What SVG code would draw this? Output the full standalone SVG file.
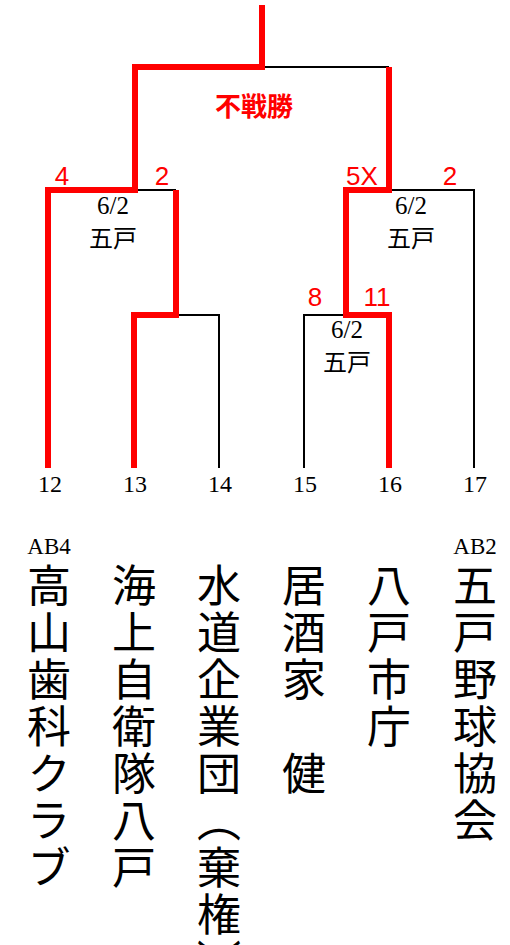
<svg xmlns="http://www.w3.org/2000/svg" width="510" height="945" viewBox="0 0 510 945">
<style>
.bk{fill:none;stroke:#000;stroke-width:2}
.rd{fill:none;stroke:#ff0000;stroke-width:6;stroke-linejoin:miter}
.sc{font-family:"Liberation Sans","Open Sans",sans-serif;font-size:26px;fill:#ff0000;text-anchor:middle}
.dt{font-family:"Liberation Serif",serif;font-size:25px;fill:#000;text-anchor:middle}
.ml{font-family:"Noto Sans CJK JP","Noto Sans CJK SC",sans-serif;font-size:24px;fill:#000;text-anchor:middle}
.num{font-family:"Liberation Serif",serif;font-size:24px;fill:#000;text-anchor:middle}
.ab{font-family:"Liberation Serif",serif;font-size:23px;fill:#000;text-anchor:middle}
.nm{font-family:"Noto Sans CJK JP","Noto Sans CJK SC",sans-serif;font-size:44px;fill:#000;writing-mode:vertical-rl;letter-spacing:3px}
</style>
<rect width="510" height="945" fill="#fff"/>
<g id="connectors">
<path class="bk" d="M262,67 H389"/>
<path class="bk" d="M135,190 H176"/>
<path class="bk" d="M176,315 H219 V468"/>
<path class="bk" d="M389,190 H474 V468"/>
<path class="bk" d="M304,468 V315 H346"/>
<path class="rd" d="M262,5 V67 H135 V190 H48 V468"/>
<path class="rd" d="M176,190 V315 H134 V468"/>
<path class="rd" d="M389,67 V190 H346 V315 H389 V468"/>
</g>
<g id="final">
<text x="254" y="116" style="font-family:'Noto Sans CJK JP',sans-serif;font-size:26px;font-weight:bold;fill:#ff0000;text-anchor:middle">不戦勝</text>
</g>
<g id="match-left">
<text class="sc" x="62" y="185">4</text>
<text class="sc" x="162" y="185">2</text>
<text class="dt" x="113" y="214">6/2</text>
<text class="ml" x="113" y="247">五戸</text>
</g>
<g id="match-right">
<text class="sc" x="362" y="185">5X</text>
<text class="sc" x="450" y="185">2</text>
<text class="dt" x="411" y="214">6/2</text>
<text class="ml" x="411" y="247">五戸</text>
</g>
<g id="match-mid">
<text class="sc" x="315" y="306">8</text>
<text class="sc" x="377" y="306">11</text>
<text class="dt" x="347" y="338">6/2</text>
<text class="ml" x="347" y="371">五戸</text>
</g>
<g id="team12">
<text class="num" x="50" y="492">12</text>
<text class="ab" x="49" y="554">AB4</text>
<text class="nm" x="49" y="563">高山歯科クラブ</text>
</g>
<g id="team13">
<text class="num" x="135" y="492">13</text>
<text class="nm" x="134" y="563">海上自衛隊八戸</text>
</g>
<g id="team14">
<text class="num" x="220" y="492">14</text>
<text class="nm" x="219" y="563">水道企業団︵棄権︶</text>
</g>
<g id="team15">
<text class="num" x="305" y="492">15</text>
<text class="nm" x="304" y="563">居酒家　健</text>
</g>
<g id="team16">
<text class="num" x="390" y="492">16</text>
<text class="nm" x="389" y="563">八戸市庁</text>
</g>
<g id="team17">
<text class="num" x="475" y="492">17</text>
<text class="ab" x="475" y="554">AB2</text>
<text class="nm" x="475" y="563">五戸野球協会</text>
</g>
</svg>
